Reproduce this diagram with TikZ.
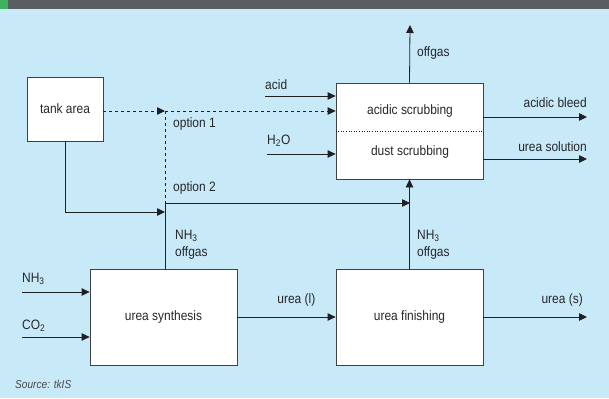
\documentclass[tikz,border=0pt]{standalone}
\usepackage{fontspec}
\setmainfont{Liberation Sans}[FakeStretch=0.88]
\usetikzlibrary{arrows.meta,positioning}
\definecolor{bgcol}{RGB}{199,233,248}
\definecolor{barcol}{RGB}{90,93,97}
\definecolor{greencol}{RGB}{62,178,92}
\definecolor{linecol}{RGB}{32,32,34}
\definecolor{txtcol}{RGB}{40,40,43}

\begin{document}
\begin{tikzpicture}[x=1pt,y=-1pt,>={Triangle[length=8pt,width=7.5pt]},
  unit/.style={draw=linecol!85,line width=0.8pt,fill=white,inner sep=0pt,
    font=\fontsize{13.6}{15}\selectfont,text=txtcol},
  flow/.style={->,line width=0.8pt,draw=linecol},
  lbl/.style={font=\fontsize{13.6}{17}\selectfont,text=txtcol,inner sep=0pt,align=left}]
% background and header bar
\fill[bgcol] (0,0) rectangle (609,398);
\useasboundingbox (0,0) rectangle (609,398);
\fill[barcol] (0,0) rectangle (609,9);
\fill[greencol] (0,0) rectangle (8,9);

% process units
\node[unit,minimum width=76pt,minimum height=64pt] (tank) at (65,109) {tank area};
\node[unit,minimum width=147pt,minimum height=96pt] (scrub) at (409.5,131) {};
\node[unit,minimum width=147pt,minimum height=96pt] (synth) at (163.5,317) {urea synthesis};
\node[unit,minimum width=147pt,minimum height=96pt] (fin) at (409.5,317) {urea finishing};
\draw[linecol,line width=0.6pt,dotted] (scrub.west) -- (scrub.east);
\node[lbl] (acidscr) at (410,111) {acidic scrubbing};
\node[lbl] (dustscr) at (410,152) {dust scrubbing};

% junctions and free ends
\coordinate (opt1) at (165,111);
\coordinate (opt2) at (165,203);
\coordinate (tankjoin) at (165,212);
\coordinate (acidin) at (265,96);
\coordinate (waterin) at (267,154);
\coordinate (nh3in) at (22,292);
\coordinate (co2in) at (22,337);
\coordinate (offtop) at (410,25);
\coordinate (bleedout) at (587,117);
\coordinate (solout) at (587,159);
\coordinate (ureaout) at (587,317);
\coordinate (finup) at (410,203);

% option 1 (dashed)
\draw[flow,dashed] (tank.east |- opt1) -- (opt1);
\draw[flow,dashed] (opt1) -- (opt1 -| scrub.west);
\draw[line width=0.8pt,draw=linecol,dashed] (opt1) -- (opt2);
\node[lbl,anchor=west] (o1) at (173,124) {option 1};

% option 2
\draw[flow] (tank.south) |- (tankjoin);
\draw[line width=0.8pt,draw=linecol] (synth.north -| opt2) -- (opt2);
\draw[flow] (opt2) -- (finup);
\node[lbl,anchor=west] (o2) at (173,188) {option 2};

% scrubber in/out
\draw[flow] (acidin) -- (acidin -| scrub.west);
\node[lbl,anchor=west] (acidlbl) at (265,85) {acid};
\draw[flow] (waterin) -- (waterin -| scrub.west);
\node[lbl,anchor=west] (waterlbl) at (267,141) {H\textsubscript{2}O};
\draw[flow] (scrub.north) -- (offtop);
\node[lbl,anchor=west] (offlbl) at (417,53) {offgas};
\draw[flow] (bleedout -| scrub.east) -- (bleedout);
\node[lbl,anchor=east] (bleedlbl) at (587,103) {acidic bleed};
\draw[flow] (solout -| scrub.east) -- (solout);
\node[lbl,anchor=east] (sollbl) at (587,147) {urea solution};

% synthesis and finishing
\draw[flow] (nh3in) -- (nh3in -| synth.west);
\node[lbl,anchor=west] (nh3lbl) at (22,279) {NH\textsubscript{3}};
\draw[flow] (co2in) -- (co2in -| synth.west);
\node[lbl,anchor=west] (co2lbl) at (22,326) {CO\textsubscript{2}};
\node[lbl,anchor=west] (synoff) at (175,245) {NH\textsubscript{3}\\offgas};
\draw[flow] (synth) -- node[lbl,pos=0.6,above=10pt] {urea (l)} (fin);
\draw[flow] (fin.north) -- (scrub.south);
\node[lbl,anchor=west] (finoff) at (417,245) {NH\textsubscript{3}\\offgas};
\draw[flow] (fin) -- node[lbl,pos=0.76,above=10pt] {urea (s)} (ureaout);

\node[font=\fontsize{11.5}{12}\selectfont\itshape,text=txtcol!85,anchor=west,inner sep=0pt]
  (src) at (15,384) {Source: tkIS};
\end{tikzpicture}
\end{document}
